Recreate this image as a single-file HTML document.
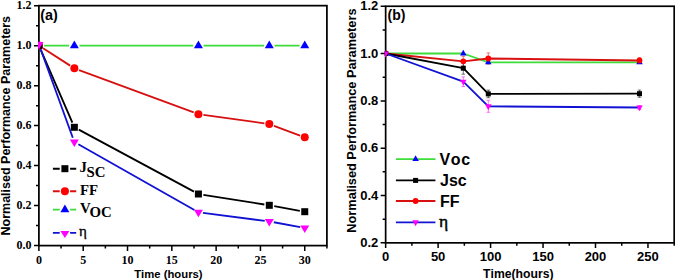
<!DOCTYPE html>
<html><head><meta charset="utf-8"><style>
html,body{margin:0;padding:0;background:#fff;}
body{width:675px;height:280px;overflow:hidden;font-family:"Liberation Sans",sans-serif;}
svg{display:block;}
text{font-kerning:none;}
</style></head><body>
<svg width="675" height="280" viewBox="0 0 675 280">
<rect width="675" height="280" fill="#fff"/>
<defs><clipPath id="ca"><rect x="38.00" y="4.75" width="289.80" height="241.75"/></clipPath>
<clipPath id="cb"><rect x="384.80" y="5.40" width="290.25" height="238.30"/></clipPath></defs>
<rect x="38.90" y="5.65" width="288.00" height="239.95" fill="none" stroke="#000" stroke-width="1.75"/>
<path d="M38.90 245.60H34.00M38.90 225.60H36.00M38.90 205.61H34.00M38.90 185.61H36.00M38.90 165.62H34.00M38.90 145.62H36.00M38.90 125.62H34.00M38.90 105.63H36.00M38.90 85.63H34.00M38.90 65.64H36.00M38.90 45.64H34.00M38.90 25.65H36.00M38.90 5.65H34.00M38.90 245.60V250.90M61.05 245.60V248.60M83.21 245.60V250.90M105.36 245.60V248.60M127.52 245.60V250.90M149.67 245.60V248.60M171.82 245.60V250.90M193.98 245.60V248.60M216.13 245.60V250.90M238.28 245.60V248.60M260.44 245.60V250.90M282.59 245.60V248.60M304.75 245.60V250.90M326.90 245.60V248.60" stroke="#000" stroke-width="1.5" fill="none"/>
<g font-family="Liberation Serif" font-weight="bold" font-size="12" fill="#000">
<text x="31.6" y="249.20" text-anchor="end">0.0</text>
<text x="31.6" y="209.21" text-anchor="end">0.2</text>
<text x="31.6" y="169.22" text-anchor="end">0.4</text>
<text x="31.6" y="129.22" text-anchor="end">0.6</text>
<text x="31.6" y="89.23" text-anchor="end">0.8</text>
<text x="31.6" y="49.24" text-anchor="end">1.0</text>
<text x="31.6" y="9.25" text-anchor="end">1.2</text>
<text x="38.90" y="263.6" text-anchor="middle">0</text>
<text x="83.21" y="263.6" text-anchor="middle">5</text>
<text x="127.52" y="263.6" text-anchor="middle">10</text>
<text x="171.82" y="263.6" text-anchor="middle">15</text>
<text x="216.13" y="263.6" text-anchor="middle">20</text>
<text x="260.44" y="263.6" text-anchor="middle">25</text>
<text x="304.75" y="263.6" text-anchor="middle">30</text>
</g>
<text x="40.2" y="19.6" font-family="Liberation Sans" font-weight="bold" font-size="14.4">(a)</text>
<text transform="translate(9.6 125.7) rotate(-90)" text-anchor="middle" font-family="Liberation Sans" font-weight="bold" font-size="12.5">Normalised Performance Parameters</text>
<text x="168.4" y="277.6" text-anchor="middle" font-family="Liberation Sans" font-weight="bold" font-size="11.3">Time (hours)</text>
<g clip-path="url(#ca)">
<path d="M44.10 45.60L69.15 45.60M79.55 45.60L193.21 45.60M203.61 45.60L264.10 45.60M274.50 45.60L299.55 45.60" fill="none" stroke="#3ddc3a" stroke-width="1.85" stroke-linecap="butt"/>
<path d="M43.11 48.30L70.14 65.60M79.04 70.03L193.72 112.47M203.36 114.88L264.35 123.32M273.98 125.76L300.06 135.54" fill="none" stroke="#d81010" stroke-width="1.85" stroke-linecap="butt"/>
<path d="M40.89 50.19L72.36 122.71M78.75 129.67L194.00 191.63M203.35 194.79L264.36 204.51M274.22 206.19L299.83 210.81" fill="none" stroke="#000" stroke-width="1.85" stroke-linecap="butt"/>
<path d="M40.47 48.76L72.78 137.71M78.35 144.30L194.40 209.97M202.97 212.83L264.74 220.84M273.82 222.26L300.22 227.10" fill="none" stroke="#1212d4" stroke-width="1.85" stroke-linecap="butt"/>
<path d="M38.90 40.53L43.40 48.13L34.40 48.13Z" fill="#0000ff"/>
<path d="M74.35 40.53L78.85 48.13L69.85 48.13Z" fill="#0000ff"/>
<path d="M198.41 40.53L202.91 48.13L193.91 48.13Z" fill="#0000ff"/>
<path d="M269.30 40.53L273.80 48.13L264.80 48.13Z" fill="#0000ff"/>
<path d="M304.75 40.53L309.25 48.13L300.25 48.13Z" fill="#0000ff"/>
<circle cx="38.90" cy="45.60" r="4.0" fill="#ff0000"/>
<circle cx="74.35" cy="68.30" r="4.0" fill="#ff0000"/>
<circle cx="198.41" cy="114.20" r="4.0" fill="#ff0000"/>
<circle cx="269.30" cy="124.00" r="4.0" fill="#ff0000"/>
<circle cx="304.75" cy="137.30" r="4.0" fill="#ff0000"/>
<rect x="35.40" y="42.10" width="7.0" height="7.0" fill="#000"/>
<rect x="70.85" y="123.80" width="7.0" height="7.0" fill="#000"/>
<rect x="194.91" y="190.50" width="7.0" height="7.0" fill="#000"/>
<rect x="265.80" y="201.80" width="7.0" height="7.0" fill="#000"/>
<rect x="301.25" y="208.20" width="7.0" height="7.0" fill="#000"/>
<path d="M34.40 41.90L43.40 41.90L38.90 49.50Z" fill="#ff00ff"/>
<path d="M69.85 139.50L78.85 139.50L74.35 147.10Z" fill="#ff00ff"/>
<path d="M193.91 209.70L202.91 209.70L198.41 217.30Z" fill="#ff00ff"/>
<path d="M264.80 218.90L273.80 218.90L269.30 226.50Z" fill="#ff00ff"/>
<path d="M300.25 225.40L309.25 225.40L304.75 233.00Z" fill="#ff00ff"/>
</g>
<path d="M52.9 168.7H59.70M70.10 168.7H76.2" stroke="#000" stroke-width="1.85"/>
<rect x="61.40" y="165.20" width="7.0" height="7.0" fill="#000"/>
<path d="M52.9 191.2H59.70M70.10 191.2H76.2" stroke="#d81010" stroke-width="1.85"/>
<circle cx="64.90" cy="191.20" r="4.0" fill="#ff0000"/>
<path d="M52.9 209.6H59.70M70.10 209.6H76.2" stroke="#3ddc3a" stroke-width="1.85"/>
<path d="M64.90 204.53L69.40 212.13L60.40 212.13Z" fill="#0000ff"/>
<path d="M52.9 232.8H59.70M70.10 232.8H76.2" stroke="#1212d4" stroke-width="1.85"/>
<path d="M60.40 231.07L69.40 231.07L64.90 238.07Z" fill="#ff00ff"/>
<g font-family="Liberation Serif" font-weight="bold" font-size="14.8" fill="#000">
<text x="79.4" y="171.9">J</text><text x="86.6" y="176.5">SC</text>
<text x="79.9" y="195.0">FF</text>
<text x="79.9" y="213.3">V</text><text x="89.6" y="217.3">OC</text>
</g>
<text x="79.1" y="236.3" font-family="Liberation Serif" font-size="15" stroke="#000" stroke-width="0.3">η</text>
<rect x="385.65" y="6.25" width="288.55" height="236.60" fill="none" stroke="#000" stroke-width="1.7"/>
<path d="M385.65 242.85H380.65M385.65 219.19H382.65M385.65 195.53H380.65M385.65 171.87H382.65M385.65 148.21H380.65M385.65 124.55H382.65M385.65 100.89H380.65M385.65 77.23H382.65M385.65 53.57H380.65M385.65 29.91H382.65M385.65 6.25H380.65M385.65 242.85V248.05M411.88 242.85V245.85M438.11 242.85V248.05M464.35 242.85V245.85M490.58 242.85V248.05M516.81 242.85V245.85M543.04 242.85V248.05M569.27 242.85V245.85M595.50 242.85V248.05M621.74 242.85V245.85M647.97 242.85V248.05M674.20 242.85V245.85" stroke="#000" stroke-width="1.5" fill="none"/>
<g font-family="Liberation Sans" font-weight="bold" font-size="13" fill="#000">
<text x="378.3" y="246.95" text-anchor="end">0.2</text>
<text x="378.3" y="199.63" text-anchor="end">0.4</text>
<text x="378.3" y="152.31" text-anchor="end">0.6</text>
<text x="378.3" y="104.99" text-anchor="end">0.8</text>
<text x="378.3" y="57.67" text-anchor="end">1.0</text>
<text x="378.3" y="10.35" text-anchor="end">1.2</text>
<text x="385.65" y="261.0" text-anchor="middle">0</text>
<text x="438.11" y="261.0" text-anchor="middle">50</text>
<text x="490.58" y="261.0" text-anchor="middle">100</text>
<text x="543.04" y="261.0" text-anchor="middle">150</text>
<text x="595.50" y="261.0" text-anchor="middle">200</text>
<text x="647.97" y="261.0" text-anchor="middle">250</text>
</g>
<text x="387.5" y="19.7" font-family="Liberation Sans" font-weight="bold" font-size="14">(b)</text>
<text transform="translate(356.4 120.6) rotate(-90)" text-anchor="middle" font-family="Liberation Sans" font-weight="bold" font-size="12.77">Normalised Performance Parameters</text>
<text x="518.3" y="277.5" text-anchor="middle" font-family="Liberation Sans" font-weight="bold" font-size="12.2">Time(hours)</text>
<g clip-path="url(#cb)">
<path d="M385.65 53.50L463.30 53.50M463.30 53.50L488.30 62.30M488.30 62.30L639.50 62.30" fill="none" stroke="#3ddc3a" stroke-width="1.85" stroke-linecap="butt"/>
<path d="M385.65 53.50L463.30 61.30M463.30 61.30L488.30 58.50M488.30 58.50L639.50 60.50" fill="none" stroke="#d81010" stroke-width="1.85" stroke-linecap="butt"/>
<path d="M385.65 53.50L463.30 68.20M463.30 68.20L488.30 93.90M488.30 93.90L639.50 93.70" fill="none" stroke="#000" stroke-width="1.85" stroke-linecap="butt"/>
<path d="M385.65 53.50L463.30 81.70M463.30 81.70L488.30 106.30M488.30 106.30L639.50 107.50" fill="none" stroke="#1212d4" stroke-width="1.85" stroke-linecap="butt"/>
<path d="M463.30 56.30V66.30M461.50 56.30H465.10M461.50 66.30H465.10" stroke="#d81010" stroke-width="0.9" fill="none" opacity="0.6"/>
<path d="M488.30 52.90V64.10M486.50 52.90H490.10M486.50 64.10H490.10" stroke="#d81010" stroke-width="0.9" fill="none" opacity="0.6"/>
<path d="M639.50 57.70V63.30M637.70 57.70H641.30M637.70 63.30H641.30" stroke="#d81010" stroke-width="0.9" fill="none" opacity="0.6"/>
<path d="M463.30 62.20V74.20M461.50 62.20H465.10M461.50 74.20H465.10" stroke="#000" stroke-width="0.9" fill="none" opacity="0.6"/>
<path d="M488.30 90.10V97.70M486.50 90.10H490.10M486.50 97.70H490.10" stroke="#000" stroke-width="0.9" fill="none" opacity="0.6"/>
<path d="M639.50 90.10V97.30M637.70 90.10H641.30M637.70 97.30H641.30" stroke="#000" stroke-width="0.9" fill="none" opacity="0.6"/>
<path d="M463.30 76.90V86.50M461.50 76.90H465.10M461.50 86.50H465.10" stroke="#ff00ff" stroke-width="0.9" fill="none" opacity="0.6"/>
<path d="M488.30 100.30V112.30M486.50 100.30H490.10M486.50 112.30H490.10" stroke="#ff00ff" stroke-width="0.9" fill="none" opacity="0.6"/>
<path d="M639.50 105.50V109.50M637.70 105.50H641.30M637.70 109.50H641.30" stroke="#ff00ff" stroke-width="0.9" fill="none" opacity="0.6"/>
<path d="M385.65 49.63L388.90 55.43L382.40 55.43Z" fill="#0000ff"/>
<path d="M463.30 49.63L466.55 55.43L460.05 55.43Z" fill="#0000ff"/>
<path d="M488.30 58.43L491.55 64.23L485.05 64.23Z" fill="#0000ff"/>
<path d="M639.50 58.43L642.75 64.23L636.25 64.23Z" fill="#0000ff"/>
<circle cx="385.65" cy="53.50" r="2.9" fill="#ff0000"/>
<circle cx="463.30" cy="61.30" r="2.9" fill="#ff0000"/>
<circle cx="488.30" cy="58.50" r="2.9" fill="#ff0000"/>
<circle cx="639.50" cy="60.50" r="2.9" fill="#ff0000"/>
<rect x="383.15" y="51.00" width="5.0" height="5.0" fill="#000"/>
<rect x="460.80" y="65.70" width="5.0" height="5.0" fill="#000"/>
<rect x="485.80" y="91.40" width="5.0" height="5.0" fill="#000"/>
<rect x="637.00" y="91.20" width="5.0" height="5.0" fill="#000"/>
<path d="M382.40 51.57L388.90 51.57L385.65 57.37Z" fill="#ff00ff"/>
<path d="M460.05 79.77L466.55 79.77L463.30 85.57Z" fill="#ff00ff"/>
<path d="M485.05 104.37L491.55 104.37L488.30 110.17Z" fill="#ff00ff"/>
<path d="M636.25 105.57L642.75 105.57L639.50 111.37Z" fill="#ff00ff"/>
</g>
<path d="M395.9 159.1H435.4" stroke="#3ddc3a" stroke-width="1.85"/>
<path d="M415.60 155.23L418.85 161.03L412.35 161.03Z" fill="#0000ff"/>
<path d="M395.9 180.4H435.4" stroke="#000" stroke-width="1.85"/>
<rect x="413.10" y="177.90" width="5.0" height="5.0" fill="#000"/>
<path d="M395.9 201.0H435.4" stroke="#d81010" stroke-width="1.85"/>
<circle cx="415.60" cy="201.00" r="2.9" fill="#ff0000"/>
<path d="M395.9 222.3H435.4" stroke="#1212d4" stroke-width="1.85"/>
<path d="M412.35 220.37L418.85 220.37L415.60 226.17Z" fill="#ff00ff"/>
<g font-family="Liberation Sans" font-weight="bold" font-size="16" fill="#000">
<text x="439.6" y="164.8" letter-spacing="0.6">Voc</text>
<text x="440.0" y="186.2">Jsc</text>
<text x="440.0" y="206.6">FF</text>
</g>
<text x="439.0" y="227.4" font-family="Liberation Serif" font-size="17.5" stroke="#000" stroke-width="0.45">η</text>
</svg>
</body></html>
